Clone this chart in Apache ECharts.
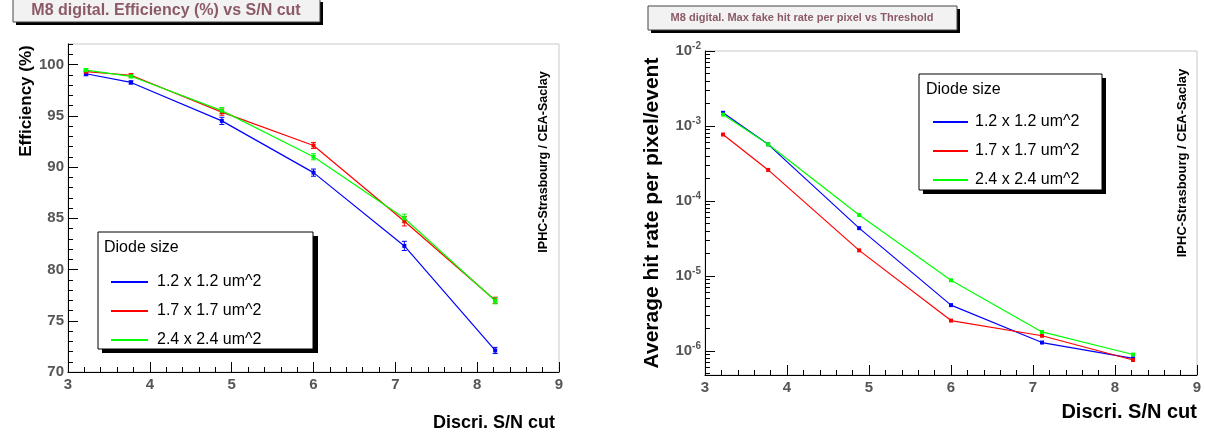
<!DOCTYPE html>
<html><head><meta charset="utf-8">
<script src="https://cdn.jsdelivr.net/npm/echarts@6/dist/echarts.min.js"></script>
<style>html,body{margin:0;padding:0;background:#fff}#c{width:1205px;height:436px}</style>
</head><body><div id="c"></div>
<script>
// ---- data ----
const cutValues = [3.22, 3.77, 4.88, 6.0, 7.11, 8.22];
const seriesNames = ['1.2 x 1.2 um^2', '1.7 x 1.7 um^2', '2.4 x 2.4 um^2'];
const seriesColors = ['#0000ff', '#ff0000', '#00ff00'];

const effBlue  = [99.1, 98.25, 94.5, 89.45, 82.3, 72.1];
const effRed   = [99.3, 98.95, 95.35, 92.1, 84.7, 77.0];
const effGreen = [99.45, 98.85, 95.5, 91.0, 85.0, 76.95];
const effErrBlue  = [0.2, 0.15, 0.35, 0.35, 0.45, 0.3];
const effErrRed   = [0.15, 0.15, 0.3, 0.3, 0.45, 0.3];
const effErrGreen = [0.15, 0.15, 0.3, 0.3, 0.4, 0.3];

const rateBlue  = [1.5e-3, 5.7e-4, 4.35e-5, 4.1e-6, 1.3e-6, 8.0e-7];
const rateRed   = [7.7e-4, 2.6e-4, 2.2e-5, 2.55e-6, 1.6e-6, 7.6e-7];
const rateGreen = [1.42e-3, 5.7e-4, 6.5e-5, 8.8e-6, 1.8e-6, 9.0e-7];

const effMajorTicks = [70, 75, 80, 85, 90, 95, 100];
const effMinorTicks = [71,72,73,74,76,77,78,79,81,82,83,84,86,87,88,89,91,92,93,94,96,97,98,99,101,102];
const rateMajorTicks = [1e-6, 1e-5, 1e-4, 1e-3, 1e-2];
const rateDecades = [1e-7, 1e-6, 1e-5, 1e-4, 1e-3];
const rateMantissas = [2, 3, 4, 5, 6, 7, 8, 9];
const rateMinorTicks = [];
rateDecades.forEach(d => rateMantissas.forEach(m => {
  const v = m * d; if (v > 4.8e-7 && v < 1e-2) rateMinorTicks.push(v);
}));

const effVals = [effBlue, effRed, effGreen];
const effErrs = [effErrBlue, effErrRed, effErrGreen];
const rateVals = [rateBlue, rateRed, rateGreen];

// ---- chart ----
const FONT = '"Liberation Sans", Arial, Helvetica, sans-serif';
const labelStyle = { color: '#555', fontWeight: 'bold', fontSize: 15, fontFamily: FONT };

function xAxisDef(gridIndex) {
  return {
    type: 'value', gridIndex, min: 3, max: 9, interval: 1,
    axisLine: { show: true, onZero: false, lineStyle: { color: '#000', width: 1 } },
    axisTick: { show: true, inside: true, length: 10, lineStyle: { color: '#000' } },
    minorTick: { show: true, splitNumber: 5, length: 5, lineStyle: { color: '#000' } },
    axisLabel: Object.assign({ margin: 5 }, labelStyle),
    splitLine: { show: false }, minorSplitLine: { show: false }
  };
}

const option = {
  animation: false,
  backgroundColor: '#fff',
  textStyle: { fontFamily: FONT },
  grid: [
    { left: 68, top: 44, width: 491, height: 328, show: true, borderColor: '#c8c8c8', borderWidth: 1, backgroundColor: 'transparent' },
    { left: 705, top: 51, width: 492, height: 324, show: true, borderColor: '#c8c8c8', borderWidth: 1, backgroundColor: 'transparent' }
  ],
  xAxis: [xAxisDef(0), xAxisDef(1)],
  yAxis: [
    { type: 'value', gridIndex: 0, min: 70, max: 102,
      axisLine: { show: true, onZero: false, lineStyle: { color: '#000' } },
      axisTick: { show: true, inside: true, length: 10, customValues: effMajorTicks, lineStyle: { color: '#000' } },
      axisLabel: Object.assign({ margin: 4, customValues: effMajorTicks }, labelStyle),
      splitLine: { show: false } },
    { type: 'value', gridIndex: 0, min: 70, max: 102, position: 'left',
      axisLine: { show: false },
      axisTick: { show: true, inside: true, length: 5, customValues: effMinorTicks, lineStyle: { color: '#000' } },
      axisLabel: { show: false }, splitLine: { show: false } },
    { type: 'log', logBase: 10, gridIndex: 1, min: 4.8e-7, max: 1e-2,
      axisLine: { show: true, onZero: false, lineStyle: { color: '#000' } },
      axisTick: { show: true, inside: true, length: 10, customValues: rateMajorTicks, lineStyle: { color: '#000' } },
      axisLabel: Object.assign({ margin: 4, customValues: rateMajorTicks,
        formatter: v => { const e = Math.round(Math.log10(v)); return '{b|10}{s|' + e + '}'; },
        rich: { b: { color: '#555', fontWeight: 'bold', fontSize: 15, fontFamily: FONT },
                s: { color: '#555', fontWeight: 'bold', fontSize: 10, fontFamily: FONT, padding: [0, 0, 9, 0] } } }, labelStyle),
      splitLine: { show: false } },
    { type: 'log', logBase: 10, gridIndex: 1, min: 4.8e-7, max: 1e-2, position: 'left',
      axisLine: { show: false },
      axisTick: { show: true, inside: true, length: 5, customValues: rateMinorTicks, lineStyle: { color: '#000' } },
      axisLabel: { show: false }, splitLine: { show: false } }
  ],
  legend: [
    { data: seriesNames, orient: 'vertical', left: 106, top: 269, itemWidth: 37, itemHeight: 2, itemGap: 13,
      icon: 'rect', selectedMode: false, z: 20,
      textStyle: { fontSize: 16, lineHeight: 16, color: '#000', fontFamily: FONT, padding: [0, 0, 0, 4] } },
    { data: seriesNames, orient: 'vertical', left: 928, top: 109, itemWidth: 35, itemHeight: 2, itemGap: 13,
      icon: 'rect', selectedMode: false, z: 20,
      textStyle: { fontSize: 16, lineHeight: 16, color: '#000', fontFamily: FONT, padding: [0, 0, 0, 2] } }
  ],
  graphic: [
    // left title box
    { type: 'rect', z: 5, shape: { x: 16, y: 2, width: 307, height: 23 }, style: { fill: '#000' } },
    { type: 'rect', z: 6, shape: { x: 13, y: -1, width: 307, height: 23 }, style: { fill: '#f2f2f2', stroke: '#444', lineWidth: 1 } },
    { type: 'text', z: 7, x: 166, y: 11, style: { text: 'M8 digital. Efficiency (%) vs S/N cut', align: 'center', verticalAlign: 'middle',
        font: 'bold 16px ' + FONT, fill: '#8c5a66' } },
    // right title box
    { type: 'rect', z: 5, shape: { x: 651, y: 9, width: 309, height: 24 }, style: { fill: '#000' } },
    { type: 'rect', z: 6, shape: { x: 648, y: 6, width: 309, height: 24 }, style: { fill: '#f2f2f2', stroke: '#444', lineWidth: 1 } },
    { type: 'text', z: 7, x: 802, y: 18, style: { text: 'M8 digital. Max fake hit rate per pixel vs Threshold', align: 'center', verticalAlign: 'middle',
        font: 'bold 11px ' + FONT, fill: '#8c5a66' } },
    // left legend box
    { type: 'rect', z: 8, shape: { x: 102, y: 236, width: 216, height: 117 }, style: { fill: '#000' } },
    { type: 'rect', z: 9, shape: { x: 98, y: 232, width: 215, height: 117 }, style: { fill: '#fff', stroke: '#000', lineWidth: 1 } },
    { type: 'text', z: 10, x: 104, y: 248, style: { text: 'Diode size', verticalAlign: 'middle', font: '16px ' + FONT, fill: '#000' } },
    // right legend box
    { type: 'rect', z: 8, shape: { x: 923, y: 78, width: 183, height: 116 }, style: { fill: '#000' } },
    { type: 'rect', z: 9, shape: { x: 919, y: 74, width: 183, height: 116 }, style: { fill: '#fff', stroke: '#000', lineWidth: 1 } },
    { type: 'text', z: 10, x: 926, y: 90, style: { text: 'Diode size', verticalAlign: 'middle', font: '16px ' + FONT, fill: '#000' } },
    // axis titles
    { type: 'text', z: 10, x: 26, y: 101, rotation: Math.PI / 2, style: { text: 'Efficiency (%)', align: 'center', verticalAlign: 'middle', font: 'bold 17px ' + FONT, fill: '#000' } },
    { type: 'text', z: 10, x: 555, y: 423, style: { text: 'Discri. S/N cut', align: 'right', verticalAlign: 'middle', font: 'bold 18px ' + FONT, fill: '#000' } },
    { type: 'text', z: 10, x: 652, y: 213, rotation: Math.PI / 2, style: { text: 'Average hit rate per pixel/event', align: 'center', verticalAlign: 'middle', font: 'bold 21px ' + FONT, fill: '#000' } },
    { type: 'text', z: 10, x: 1197, y: 412, style: { text: 'Discri. S/N cut', align: 'right', verticalAlign: 'middle', font: 'bold 20px ' + FONT, fill: '#000' } },
    // credits
    { type: 'text', z: 10, x: 544, y: 162, rotation: Math.PI / 2, style: { text: 'IPHC-Strasbourg / CEA-Saclay', align: 'center', verticalAlign: 'middle', font: 'bold 12.5px ' + FONT, fill: '#000' } },
    { type: 'text', z: 10, x: 1182, y: 163, rotation: Math.PI / 2, style: { text: 'IPHC-Strasbourg / CEA-Saclay', align: 'center', verticalAlign: 'middle', font: 'bold 13px ' + FONT, fill: '#000' } }
  ],
  series: []
};

seriesNames.forEach((name, i) => {
  const color = seriesColors[i];
  option.series.push({
    type: 'line', name, xAxisIndex: 0, yAxisIndex: 0, color,
    data: cutValues.map((x, k) => [x, effVals[i][k]]),
    symbol: 'rect', symbolSize: 4, showSymbol: true,
    lineStyle: { color, width: 1.2 }, itemStyle: { color }, z: 3
  });
  option.series.push({
    type: 'custom', name: name + ' err', xAxisIndex: 0, yAxisIndex: 0, z: 3,
    data: cutValues.map((x, k) => [x, effVals[i][k], effErrs[i][k]]),
    encode: { x: 0, y: 1 },
    renderItem: (params, api) => {
      const x = api.value(0), y = api.value(1), e = api.value(2);
      const top = api.coord([x, y + e]), bot = api.coord([x, y - e]);
      const st = { stroke: color, lineWidth: 1 };
      return { type: 'group', children: [
        { type: 'line', shape: { x1: top[0], y1: top[1], x2: bot[0], y2: bot[1] }, style: st },
        { type: 'line', shape: { x1: top[0] - 2.5, y1: top[1], x2: top[0] + 2.5, y2: top[1] }, style: st },
        { type: 'line', shape: { x1: bot[0] - 2.5, y1: bot[1], x2: bot[0] + 2.5, y2: bot[1] }, style: st }
      ] };
    }
  });
  option.series.push({
    type: 'line', name, xAxisIndex: 1, yAxisIndex: 2, color,
    data: cutValues.map((x, k) => [x, rateVals[i][k]]),
    symbol: 'rect', symbolSize: 4, showSymbol: true,
    lineStyle: { color, width: 1.2 }, itemStyle: { color }, z: 3
  });
});

const chart = echarts.init(document.getElementById('c'), null, { renderer: 'canvas' });
chart.setOption(option);
</script>
</body></html>
